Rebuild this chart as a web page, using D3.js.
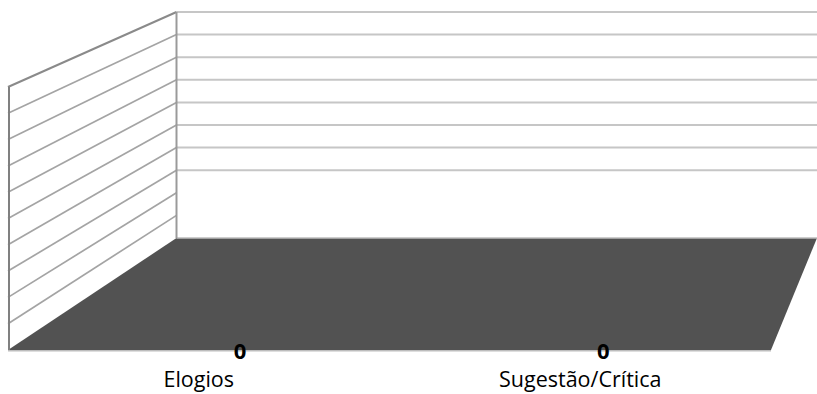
<!DOCTYPE html>
<html>
<head>
<meta charset="utf-8">
<script src="https://cdn.jsdelivr.net/npm/d3@7"></script>
<style>
  html, body { margin: 0; padding: 0; background: #fff; }
  svg { display: block; }
</style>
</head>
<body>
<svg id="chart" width="817" height="394"></svg>
<script>
// Categories and their values
const categories = ["Elogios", "Sugestão/Crítica"];
const values = [0, 0];
// Value-axis ticks (gridlines); axis labels are not shown
const gridTicks = [0, 0.1, 0.2, 0.3, 0.4, 0.5, 0.6, 0.7, 0.8, 0.9, 1];

const svg = d3.select("#chart");

// 3D box corners: floor front edge, floor back edge, wall heights
const frontLeft = 8, frontRight = 771, frontY = 350;
const backLeft = 176.5, backRight = 817, backY = 238;
const backTop = 12, frontTop = 87;
const barDepth = 0.3; // depth fraction where bars stand

// Scales
const x = d3.scaleBand().domain(categories).range([0, 1]);
const yBack = d3.scaleLinear().domain([0, 1]).range([backY, backTop]);
const yFront = d3.scaleLinear().domain([0, 1]).range([frontY, frontTop]);
const floorX = (u, d) => {
  const xf = frontLeft + u * (frontRight - frontLeft);
  const xb = backLeft + u * (backRight - backLeft);
  return xf + d * (xb - xf);
};

// Back wall horizontal gridlines
svg.append("g")
  .selectAll("line")
  .data(gridTicks.filter(t => t >= 0.3))
  .join("line")
  .attr("x1", backLeft).attr("x2", backRight)
  .attr("y1", d => yBack(d)).attr("y2", d => yBack(d))
  .attr("stroke", "#c6c6c6").attr("stroke-width", 2);

// Side wall gridlines
svg.append("g")
  .selectAll("line")
  .data(gridTicks.slice(1, -1))
  .join("line")
  .attr("x1", frontLeft).attr("x2", backLeft)
  .attr("y1", d => yFront(d)).attr("y2", d => yBack(d))
  .attr("stroke", "#a4a4a4").attr("stroke-width", 1.7);

// Floor
const floorPts = [
  [frontLeft, frontY], [backLeft, backY], [backRight, backY], [frontRight, frontY]
];
svg.append("polygon")
  .attr("points", floorPts.map(p => p.join(",")).join(" "))
  .attr("fill", "#525252");

// Wall and floor edges
svg.append("line")
  .attr("x1", backLeft).attr("x2", backRight)
  .attr("y1", backY).attr("y2", backY)
  .attr("stroke", "#bdbdbd").attr("stroke-width", 1.5);
svg.append("line")
  .attr("x1", frontLeft).attr("x2", frontRight)
  .attr("y1", frontY + 0.8).attr("y2", frontY + 0.8)
  .attr("stroke", "#bdbdbd").attr("stroke-width", 1.6);
svg.append("line")
  .attr("x1", frontLeft).attr("x2", backLeft)
  .attr("y1", yFront(1)).attr("y2", yBack(1))
  .attr("stroke", "#8a8a8a").attr("stroke-width", 2);
svg.append("line")
  .attr("x1", backLeft).attr("x2", backLeft)
  .attr("y1", yBack(1)).attr("y2", yBack(0))
  .attr("stroke", "#9a9a9a").attr("stroke-width", 2);
svg.append("line")
  .attr("x1", frontLeft + 1).attr("x2", frontLeft + 1)
  .attr("y1", yFront(1)).attr("y2", yFront(0))
  .attr("stroke", "#808080").attr("stroke-width", 2);

// Data labels
svg.append("g")
  .selectAll("text")
  .data(categories.map((c, i) => ({ c, v: values[i] })))
  .join("text")
  .attr("x", d => floorX(x(d.c) + x.bandwidth() / 2, barDepth))
  .attr("y", d => frontY + 8.5 - (yFront(0) - yFront(d.v)))
  .attr("text-anchor", "middle")
  .attr("font-family", "'Open Sans', sans-serif")
  .attr("font-weight", "bold")
  .attr("font-size", 22)
  .attr("fill", "#000")
  .text(d => d.v);

// Category labels
svg.append("g")
  .selectAll("text")
  .data(categories)
  .join("text")
  .attr("x", d => floorX(x(d) + x.bandwidth() / 2, 0))
  .attr("y", 387)
  .attr("text-anchor", "middle")
  .attr("font-family", "'Open Sans', sans-serif")
  .attr("font-size", 21.5)
  .attr("fill", "#000")
  .text(d => d);
</script>
</body>
</html>
